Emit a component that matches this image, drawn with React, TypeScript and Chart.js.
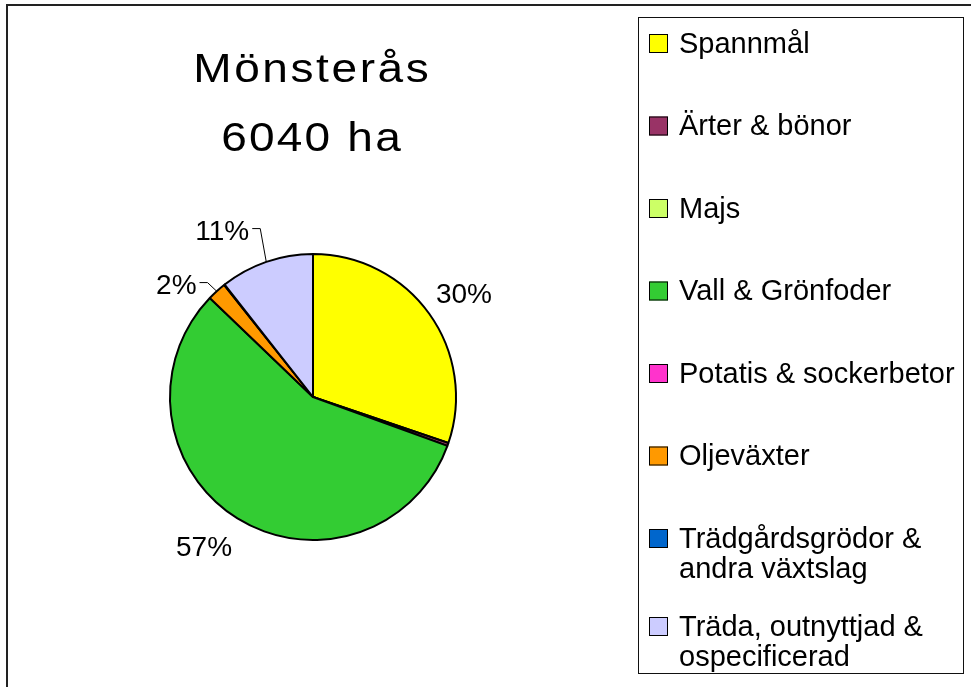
import React, { useEffect, useRef } from "react";
import { Chart, registerables } from "chart.js";

Chart.register(...registerables);

// ---- data ----
const titleLines = ["Mönsterås", "6040 ha"];
const categories = [
  "Spannmål",
  "Ärter & bönor",
  "Majs",
  "Vall & Grönfoder",
  "Potatis & sockerbetor",
  "Oljeväxter",
  "Trädgårdsgrödor & andra växtslag",
  "Träda, outnyttjad & ospecificerad",
];
const hectares = [1825, 20, 0, 3420, 0, 130, 5, 640];
const colors = ["#FFFF00", "#993366", "#CCFF66", "#33CC33", "#FF33CC", "#FF9900", "#0066CC", "#CCCCFF"];

// ---- label styling (nudges relative to the default outside position) ----
const labelNudges: number[][] = [[-6, -2], [0, 0], [0, 0], [-7, 0], [0, 0], [-12, 16], [0, 0], [-28, -2]];
const leaderLines = [false, false, false, false, false, true, false, true];

const FONT = '"Liberation Sans", Arial, sans-serif';

function drawSpaced(
  ctx: CanvasRenderingContext2D,
  text: string,
  cx: number,
  baseline: number,
  spacing: number,
  sx: number
) {
  const chars = [...text];
  const widths = chars.map((ch) => ctx.measureText(ch).width * sx);
  const total = widths.reduce((a, b) => a + b, 0) + spacing * (chars.length - 1);
  let x = cx - total / 2;
  ctx.textAlign = "left";
  chars.forEach((ch, i) => {
    ctx.save();
    ctx.translate(x, baseline);
    ctx.scale(sx, 1);
    ctx.fillText(ch, 0, 0);
    ctx.restore();
    x += widths[i] + spacing;
  });
}

function wrapText(ctx: CanvasRenderingContext2D, text: string, maxW: number): string[] {
  const words = text.split(" ");
  const lines: string[] = [];
  let cur = "";
  for (const w of words) {
    const test = cur ? cur + " " + w : w;
    if (cur && ctx.measureText(test).width > maxW) {
      lines.push(cur);
      cur = w;
    } else cur = test;
  }
  if (cur) lines.push(cur);
  return lines;
}

const decorPlugin = {
  id: "decor",
  beforeDraw(chart: any) {
    const ctx: CanvasRenderingContext2D = chart.ctx;
    ctx.save();
    ctx.fillStyle = "#FFFFFF";
    ctx.fillRect(0, 0, chart.width, chart.height);
    // outer frame (top + left visible)
    ctx.fillStyle = "#222222";
    ctx.fillRect(6, 4, chart.width - 6, 2);
    ctx.fillRect(6, 4, 2, chart.height - 4);
    ctx.restore();
  },
  afterDraw(chart: any) {
    const ctx: CanvasRenderingContext2D = chart.ctx;
    const ds = chart.data.datasets[0];
    const values: number[] = ds.data;
    const total = values.reduce((a: number, b: number) => a + b, 0);
    const meta = chart.getDatasetMeta(0);
    ctx.save();

    // ---- title ----
    ctx.fillStyle = "#000";
    ctx.font = `40px ${FONT}`;
    ctx.textBaseline = "alphabetic";
    drawSpaced(ctx, titleLines[0], 311, 82, 2.6, 1.15);
    drawSpaced(ctx, titleLines[1], 311, 151, 2.2, 1.15);

    // ---- percentage labels ----
    const lfs = 28;
    ctx.font = `${lfs}px ${FONT}`;
    ctx.strokeStyle = "#000";
    ctx.lineWidth = 1;
    meta.data.forEach((arc: any, i: number) => {
      const pct = Math.round((values[i] / total) * 100);
      if (pct < 1) return;
      const { x, y, startAngle, endAngle, outerRadius } = arc.getProps(
        ["x", "y", "startAngle", "endAngle", "outerRadius"],
        true
      );
      const mid = (startAngle + endAngle) / 2;
      const dx = Math.cos(mid);
      const dy = Math.sin(mid);
      const text = pct + "%";
      const w = ctx.measureText(text).width;
      const hw = w / 2;
      const hh = 0.358 * lfs;
      const px = x + dx * (outerRadius + 22);
      const py = y + dy * (outerRadius + 22);
      const cx = px + dx * hw + labelNudges[i][0];
      const cy = py + dy * hh + labelNudges[i][1];
      ctx.textAlign = "center";
      ctx.fillText(text, cx, cy + hh);
      if (leaderLines[i]) {
        const sx = cx + hw + 3;
        const sy = cy - 1;
        ctx.beginPath();
        ctx.moveTo(sx, sy);
        ctx.lineTo(sx + 8, sy);
        ctx.lineTo(x + dx * outerRadius, y + dy * outerRadius);
        ctx.stroke();
      }
    });

    // ---- legend ----
    const boxL = 638.5, boxT = 17.5, boxR = 963.5, boxB = 673.5;
    ctx.strokeStyle = "#111";
    ctx.lineWidth = 1;
    ctx.strokeRect(boxL, boxT, boxR - boxL, boxB - boxT);
    const lfs2 = 29;
    ctx.font = `${lfs2}px ${FONT}`;
    ctx.textAlign = "left";
    const textX = 679;
    const maxW = boxR - textX - 4;
    let top = 34;
    chart.data.labels.forEach((lab: string, i: number) => {
      const lines = wrapText(ctx, lab, maxW);
      ctx.fillStyle = ds.backgroundColor[i];
      ctx.fillRect(649, top, 19, 19);
      ctx.strokeStyle = "#000";
      ctx.strokeRect(649.5, top + 0.5, 18, 18);
      ctx.fillStyle = "#000";
      lines.forEach((ln, k) => {
        ctx.fillText(ln, textX, top + 18.5 + k * 30);
      });
      top += 82.5 + (lines.length - 1) * 5.5;
    });

    ctx.restore();
  },
};

export default function App() {
  const ref = useRef<HTMLCanvasElement | null>(null);
  useEffect(() => {
    if (!ref.current) return;
    const chart = new Chart(ref.current, {
      type: "pie",
      data: {
        labels: categories,
        datasets: [
          {
            data: hectares,
            backgroundColor: colors,
            borderColor: "#000000",
            borderWidth: 2,
          },
        ],
      },
      options: {
        responsive: false,
        animation: false,
        radius: 143,
        layout: { padding: { left: 100, right: 445, top: 147, bottom: 40 } },
        plugins: {
          legend: { display: false },
          title: { display: false },
          tooltip: { enabled: false },
        },
      } as any,
      plugins: [decorPlugin],
    });
    return () => chart.destroy();
  }, []);
  return (
    <div style={{ position: "absolute", left: 0, top: 0, width: 971, height: 687, overflow: "hidden" }}>
      <canvas ref={ref} width={971} height={687} style={{ display: "block" }} />
    </div>
  );
}
